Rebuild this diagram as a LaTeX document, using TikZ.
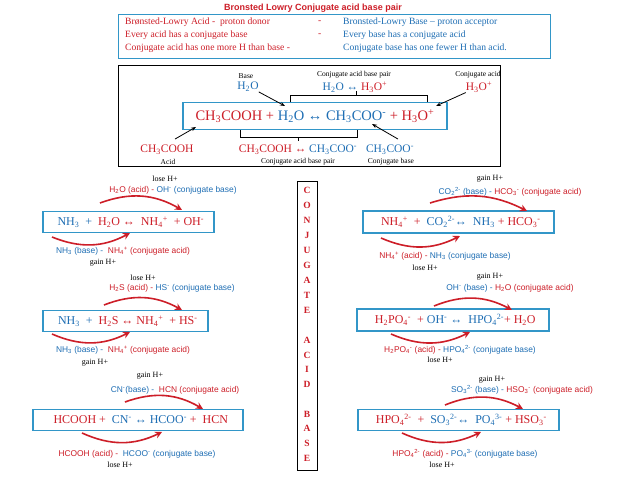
\documentclass[tikz,border=0pt]{standalone}
\usepackage{fontspec}
\setmainfont{Liberation Serif}
\setsansfont{Liberation Sans}
\usetikzlibrary{arrows.meta}
\definecolor{rd}{RGB}{205,30,40}
\definecolor{bl}{RGB}{30,110,180}
\definecolor{bx}{RGB}{50,150,200}
\newcommand\R[1]{\textcolor{rd}{#1}}
\newcommand\B[1]{\textcolor{bl}{#1}}
\newcommand\lo[1]{\textsubscript{#1}}
\newcommand\hi[1]{\textsuperscript{#1}}
\tikzset{
 lab/.style={font=\sffamily\fontsize{8.4}{9}\selectfont,inner sep=0},
 hp/.style={font=\fontsize{8}{9}\selectfont,inner sep=0},
 eqb/.style={draw=bx,line width=1.6pt,font=\fontsize{12}{14}\selectfont,inner sep=0,anchor=west},
 tl/.style={font=\fontsize{9.6}{11}\selectfont,inner sep=0,anchor=west},
 sm/.style={font=\fontsize{7.5}{8}\selectfont,inner sep=0},
 bg/.style={font=\fontsize{11.5}{13}\selectfont,inner sep=0},
 arc/.style={rd,line width=1.6pt,-{Stealth[length=7pt,width=7pt]}},
 ptr/.style={black,line width=0.8pt,-{Stealth[length=5pt]}},
 let/.style={font=\bfseries\fontsize{9.5}{10}\selectfont,inner sep=0,text=rd}
}
\begin{document}
\begin{tikzpicture}[x=1pt,y=-1pt]
\useasboundingbox (0,0) rectangle (638,479);
\fill[white] (0,0) rectangle (638,479);
% title
\node[font=\sffamily\bfseries\fontsize{9}{10}\selectfont,text=rd,inner sep=0] (title) at (313,8) {Bronsted Lowry Conjugate acid base pair};
\node[draw=bx,line width=1.4pt,minimum width=432pt,minimum height=44pt,anchor=north west] (top) at (118,14) {};
\node[tl] (t1) at (125,22) {\R{Brønsted-Lowry Acid -\ \ proton donor}};
\node[tl] (t2) at (125,35) {\R{Every acid has a conjugate base}};
\node[tl] (t3) at (125,48) {\R{Conjugate acid has one more H than base -}};
\node[tl] (d1) at (318,22) {\R{-}};
\node[tl] (d2) at (318,35) {\R{-}};
\node[tl] (u1) at (343,22) {\B{Bronsted-Lowry Base – proton acceptor}};
\node[tl] (u2) at (343,35) {\B{Every base has a conjugate acid}};
\node[tl] (u3) at (343,48) {\B{Conjugate base has one fewer H than acid.}};
% main box
\node[draw=black,line width=1.2pt,minimum width=382pt,minimum height=101pt,anchor=north west] (mb) at (118,65) {};
\node[draw=bx,line width=1.6pt,minimum width=264pt,minimum height=27pt,font=\fontsize{14.5}{16}\selectfont,inner sep=0] (eq) at (315,116) {\R{CH\lo{3}COOH + }\B{H\lo{2}O ↔ CH\lo{3}COO\hi{-}}\R{ \ + H\lo{3}O\hi{+}}};
\node[sm] (base) at (246,76) {Base};
\node[bg] (h2o) at (248,87) {\B{H\lo{2}O}};
\node[sm] (cp1) at (354,75) {Conjugate acid base pair};
\node[bg] (pair1) at (355,87) {\B{H\lo{2}O ↔ }\R{H\lo{3}O\hi{+}}};
\node[sm] (ca) at (478,75) {Conjugate acid};
\node[bg] (h3o) at (479,87) {\R{H\lo{3}O\hi{+}}};
\node[bg] (ac) at (167,150) {\R{CH\lo{3}COOH}};
\node[sm] (acl) at (168,162) {Acid};
\node[bg] (pair2) at (298,150) {\R{CH\lo{3}COOH ↔ }\B{CH\lo{3}COO\hi{-}}};
\node[sm] (cp2) at (298,162) {Conjugate acid base pair};
\node[bg] (cb) at (390,150) {\B{CH\lo{3}COO\hi{-}}};
\node[sm] (cbl) at (391,162) {Conjugate base};
\draw[line width=0.8pt] (290,102) -- (290,95) -- (427,95) -- (427,102) (356,95) -- (356,91);
\draw[line width=0.8pt] (240,130) -- (240,137) -- (357,137) -- (357,130) (298,137) -- (298,141);
\draw[ptr] (h2o.south east) -- (285,106);
\draw[ptr] (h3o.south west) -- (436,106);
\draw[ptr] (ac.north) ++(8,-6) -- (196,127);
\draw[ptr] (cb.north) ++(8,-6) -- (372,124);
% central vertical box
\node[draw=black,line width=1.4pt,minimum width=20pt,minimum height=289pt,anchor=north west] (vb) at (297,181) {};
\foreach \l/\y in {C/190,O/205,N/220,J/235,U/250,G/265,A/280,T/295,E/310,A/340,C/355,I/369,D/384,B/414,A/428,S/443,E/458}
 \node[let] at (307,\y) {\l};
% left column
\node[eqb,minimum height=21pt,minimum width=171pt] (L1) at (42,222) {\hspace{5pt}\B{NH\lo{3} \ + }\ \R{H\lo{2}O ↔ \ NH\lo{4}\hi{+} \ + OH\hi{-}}};
\node[hp] (L1a) at (165,179) {lose H+};
\node[lab] (L1b) at (173,190) {\R{H\lo{2}O (acid) - }\B{OH\hi{-} (conjugate base)}};
\node[lab] (L1c) at (123,251) {\B{NH\lo{3} (base) - }\ \R{NH\lo{4}\hi{+} (conjugate acid)}};
\node[hp] (L1d) at (103,263) {gain H+};
\coordinate (a1) at (100,203); \coordinate (a2) at (182,210);
\draw[arc] (a1) to[bend left=25] (a2);
\coordinate (b1) at (52,237); \coordinate (b2) at (130,233);
\draw[arc] (b1) to[bend right=25] (b2);

\node[eqb,minimum height=21pt,minimum width=165pt] (L2) at (42,321) {\hspace{5pt}\B{NH\lo{3} \ + }\ \R{H\lo{2}S ↔ NH\lo{4}\hi{+} \ + HS\hi{-}}};
\node[hp] (L2a) at (143,278) {lose H+};
\node[lab] (L2b) at (172,288) {\R{H\lo{2}S (acid) - }\B{HS\hi{-} (conjugate base)}};
\node[lab] (L2c) at (123,350) {\B{NH\lo{3} (base) - }\ \R{NH\lo{4}\hi{+} (conjugate acid)}};
\node[hp] (L2d) at (95,363) {gain H+};
\coordinate (a3) at (104,305); \coordinate (a4) at (182,310);
\draw[arc] (a3) to[bend left=25] (a4);
\coordinate (b3) at (52,334); \coordinate (b4) at (130,332);
\draw[arc] (b3) to[bend right=25] (b4);

\node[eqb,minimum height=21pt,minimum width=210pt] (L3) at (32,420) {\hspace{6pt}\R{HCOOH + }\ \B{CN\hi{-} ↔ HCOO\hi{-}}\ \R{ + \ HCN}};
\node[hp] (L3a) at (150,376) {gain H+};
\node[lab] (L3b) at (175,390) {\B{CN\hi{-}(base) - }\ \R{HCN (conjugate acid)}};
\node[lab] (L3c) at (137,454) {\R{HCOOH (acid) - }\ \B{HCOO\hi{-} (conjugate base)}};
\node[hp] (L3d) at (120,465) {lose H+};
\coordinate (a5) at (125,402); \coordinate (a6) at (203,409);
\draw[arc] (a5) to[bend left=25] (a6);
\coordinate (b5) at (82,433); \coordinate (b6) at (162,432);
\draw[arc] (b5) to[bend right=25] (b6);
% right column
\node[eqb,minimum height=22pt,minimum width=191pt] (R1) at (362,222) {\hspace{5pt}\R{NH\lo{4}\hi{+} \ + }\ \B{CO\lo{2}\hi{2-}↔ \ NH\lo{3}}\ \R{ + HCO\lo{3}\hi{-}}};
\node[hp] (R1a) at (490,179) {gain H+};
\node[lab] (R1b) at (510,192) {\B{CO\lo{2}\hi{2-} (base) - }\R{HCO\lo{3}\hi{-} (conjugate acid)}};
\node[lab] (R1c) at (445,256) {\R{NH\lo{4}\hi{+} (acid) - }\B{NH\lo{3} (conjugate base)}};
\node[hp] (R1d) at (425,268) {lose H+};
\coordinate (c1) at (430,203); \coordinate (c2) at (527,211);
\draw[arc] (c1) to[bend left=22] (c2);
\coordinate (e1) at (381,238); \coordinate (e2) at (460,236);
\draw[arc] (e1) to[bend right=25] (e2);

\node[eqb,minimum height=22pt,minimum width=192pt] (R2) at (356,320) {\hspace{5pt}\R{H\lo{2}PO\lo{4}\hi{-} \ + }\B{OH\hi{-} ↔ \ HPO\lo{4}\hi{2-}}\R{ + H\lo{2}O}};
\node[hp] (R2a) at (490,277) {gain H+};
\node[lab] (R2b) at (510,288) {\B{OH\hi{-} (base) - }\R{H\lo{2}O (conjugate acid)}};
\node[lab] (R2c) at (460,350) {\R{H\lo{2}PO\lo{4}\hi{-} (acid) - }\B{HPO\lo{4}\hi{2-} (conjugate base)}};
\node[hp] (R2d) at (440,360) {lose H+};
\coordinate (c3) at (434,306); \coordinate (c4) at (512,310);
\draw[arc] (c3) to[bend left=25] (c4);
\coordinate (e3) at (391,334); \coordinate (e4) at (470,332);
\draw[arc] (e3) to[bend right=25] (e4);

\node[eqb,minimum height=21pt,minimum width=201pt] (R3) at (357,420) {\hspace{6pt}\R{HPO\lo{4}\hi{2-} \ + }\ \B{SO\lo{3}\hi{2-}↔ \ PO\lo{4}\hi{3-}}\ \R{ + HSO\lo{3}\hi{-}}};
\node[hp] (R3a) at (492,380) {gain H+};
\node[lab] (R3b) at (522,390) {\B{SO\lo{3}\hi{2-} (base) - }\R{HSO\lo{3}\hi{-} (conjugate acid)}};
\node[lab] (R3c) at (465,454) {\R{HPO\lo{4}\hi{2-} (acid) - }\B{PO\lo{4}\hi{3-} (conjugate base)}};
\node[hp] (R3d) at (442,465) {lose H+};
\coordinate (c5) at (445,405); \coordinate (c6) at (523,409);
\draw[arc] (c5) to[bend left=25] (c6);
\coordinate (e5) at (402,433); \coordinate (e6) at (481,432);
\draw[arc] (e5) to[bend right=25] (e6);
\end{tikzpicture}
\end{document}
